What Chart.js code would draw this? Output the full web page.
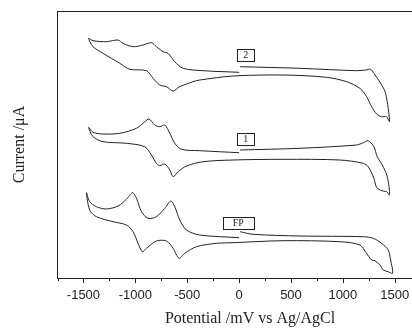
<!DOCTYPE html>
<html lang="en">
<head>
    <meta charset="UTF-8">
    <title>Cyclic voltammograms</title>
    <script src="https://cdn.jsdelivr.net/npm/chart.js"></script>
    <style>
        body, html {
            margin: 0;
            padding: 0;
            width: 412px;
            height: 328px;
            overflow: hidden;
            background: #fff;
        }
        #wrap {
            width: 443px;
            height: 328px;
        }
    </style>
</head>
<body>
    <div id="wrap"><canvas id="cvChart"></canvas></div>

    <script>
        // potential (mV vs Ag/AgCl) and current (arb. units), in scan order
        const pot2 = [10, 585, 1132, 1219, 1267, 1299, 1364, 1412, 1450, 1421, 1373, 1325, 1277, 1229, 1164, 1036, 843, 424, -58,
            -379, -444, -572, -636, -700, -765, -829, -893, -1054, -1150, -1311, -1408, -1450, -1408, -1279, -1167, -1119, -1022,
            -926, -845, -797, -733, -685, -620, -540, -347, 0];
        const cur2 = [211.3, 209.7, 207.3, 208, 208.7, 204.7, 194.7, 184.7, 156.3, 161.3, 161.3, 164, 171.3, 181.3, 189.7, 196.3,
            200.7, 203, 202, 198, 196.3, 191.3, 187, 191.3, 193, 199.7, 207.3, 208.7, 214.7, 224.7, 231.3, 239.7, 237.3, 236.3,
            238, 234.7, 231.3, 233, 235.3, 231.3, 226.3, 224.7, 216.3, 209.7, 207.3, 205.7];

        const pot1 = [10, 585, 1132, 1196, 1244, 1299, 1331, 1380, 1428, 1450, 1421, 1373, 1325, 1299, 1244, 1196, 971, 424, -58,
            -347, -507, -588, -636, -668, -716, -765, -797, -845, -909, -1086, -1311, -1408, -1450, -1408, -1311, -1150, -989,
            -909, -868, -813, -765, -716, -668, -620, -555, -379, 0];
        const cur1 = [128, 129.7, 133, 135.3, 137.3, 131.3, 121.3, 113, 101.3, 83, 86.3, 87.3, 90.7, 99.7, 111.3, 114.7, 118,
            118.7, 118, 116.3, 112, 106.3, 101.3, 108, 114, 112.3, 114.7, 123, 131.3, 134.7, 136.3, 141.3, 150.7, 145.7, 144,
            144.7, 149.7, 156.3, 159, 153, 151.3, 153, 144.7, 134.7, 128.7, 127.3, 125.3];

        const potFP = [10, 135, 585, 1196, 1292, 1373, 1437, 1460, 1480, 1437, 1389, 1357, 1309, 1277, 1228, 1164, 971, 424, -58,
            -218, -411, -524, -579, -636, -700, -797, -893, -932, -974, -1022, -1086, -1215, -1375, -1440, -1471, -1440, -1375,
            -1279, -1167, -1086, -1028, -989, -941, -878, -797, -716, -659, -620, -572, -507, -379, 0];
        const curFP = [46.3, 43.7, 42, 41.3, 39.7, 34.7, 28, 18, 4.7, 6.3, 8, 13, 17.3, 18, 24.7, 33, 36.3, 37.3, 35.3, 34.7,
            31.3, 24.7, 19.7, 29.7, 37, 37, 29.7, 26.3, 34.7, 46.3, 53, 56.3, 61.3, 68, 85.3, 76.3, 71.3, 69, 72, 78.7, 85.3,
            79.7, 66.3, 59.7, 61.3, 69.7, 77, 71.3, 58, 48, 43, 40.3];

        // curve tags: text and where they sit (mV, current)
        const tagText = ['2', '1', 'FP'];
        const tagPot = [65, 65, -8];
        const tagCur = [223, 139.5, 55];

        const xTicks = [-1500, -1000, -500, 0, 500, 1000, 1500];

        const ink = '#222';

        function toPoints(xs, ys) {
            return xs.map((x, i) => ({ x: x, y: ys[i] }));
        }

        function curve(xs, ys) {
            return {
                data: toPoints(xs, ys),
                showLine: true,
                borderColor: ink,
                borderWidth: 1,
                pointRadius: 0,
                tension: 0.3,
                fill: false
            };
        }

        // frame, tick marks and boxed tags
        const extras = {
            id: 'extras',
            afterDraw(chart) {
                const ctx = chart.ctx;
                const a = chart.chartArea;
                const xs = chart.scales.x;
                const ys = chart.scales.y;
                ctx.save();
                ctx.strokeStyle = ink;
                ctx.lineWidth = 1;
                ctx.strokeRect(a.left + 0.5, a.top + 0.5, a.right - a.left, a.bottom - a.top);

                ctx.beginPath();
                for (let v = -1750; v <= 1750; v += 250) {
                    const px = Math.round(xs.getPixelForValue(v)) + 0.5;
                    const len = (v % 500 === 0) ? 5 : 3;
                    ctx.moveTo(px, a.bottom);
                    ctx.lineTo(px, a.bottom + len);
                }
                ctx.stroke();

                ctx.font = '10px "Liberation Serif", serif';
                ctx.textAlign = 'center';
                ctx.textBaseline = 'middle';
                ctx.fillStyle = ink;
                tagText.forEach((t, i) => {
                    const cx = xs.getPixelForValue(tagPot[i]);
                    const cy = ys.getPixelForValue(tagCur[i]);
                    const w = t.length > 1 ? 31 : 17;
                    ctx.strokeRect(Math.round(cx - w / 2) + 0.5, Math.round(cy - 6) + 0.5, w, 12);
                    ctx.fillText(t, cx, cy + 0.5);
                });
                ctx.restore();
            }
        };

        new Chart(document.getElementById('cvChart'), {
            type: 'scatter',
            data: {
                datasets: [curve(pot2, cur2), curve(pot1, cur1), curve(potFP, curFP)]
            },
            options: {
                responsive: true,
                maintainAspectRatio: false,
                animation: false,
                layout: { padding: { top: 11, right: 0, left: 0, bottom: 0 } },
                plugins: {
                    legend: { display: false },
                    tooltip: { enabled: false }
                },
                scales: {
                    x: {
                        type: 'linear',
                        min: -1755,
                        max: 1965,
                        afterBuildTicks: (scale) => {
                            scale.ticks = xTicks.map(v => ({ value: v }));
                        },
                        afterFit: (scale) => { scale.height = 50; },
                        grid: { display: false },
                        border: { display: false },
                        ticks: {
                            color: ink,
                            padding: 2,
                            maxRotation: 0,
                            callback: (v) => String(v),
                            font: { family: '"Liberation Sans", Arial, sans-serif', size: 13 }
                        },
                        title: {
                            display: true,
                            text: 'Potential /mV vs Ag/AgCl',
                            color: ink,
                            padding: { top: 0, bottom: 0 },
                            font: { family: '"Liberation Serif", serif', size: 16 }
                        }
                    },
                    y: {
                        type: 'linear',
                        min: 0,
                        max: 267,
                        afterFit: (scale) => { scale.width = 57; },
                        grid: { display: false },
                        border: { display: false },
                        ticks: { display: false },
                        title: {
                            display: true,
                            text: 'Current /μA',
                            color: ink,
                            padding: { top: 10, bottom: 0 },
                            font: { family: '"Liberation Serif", serif', size: 16 }
                        }
                    }
                }
            },
            plugins: [extras]
        });
    </script>
</body>
</html>
